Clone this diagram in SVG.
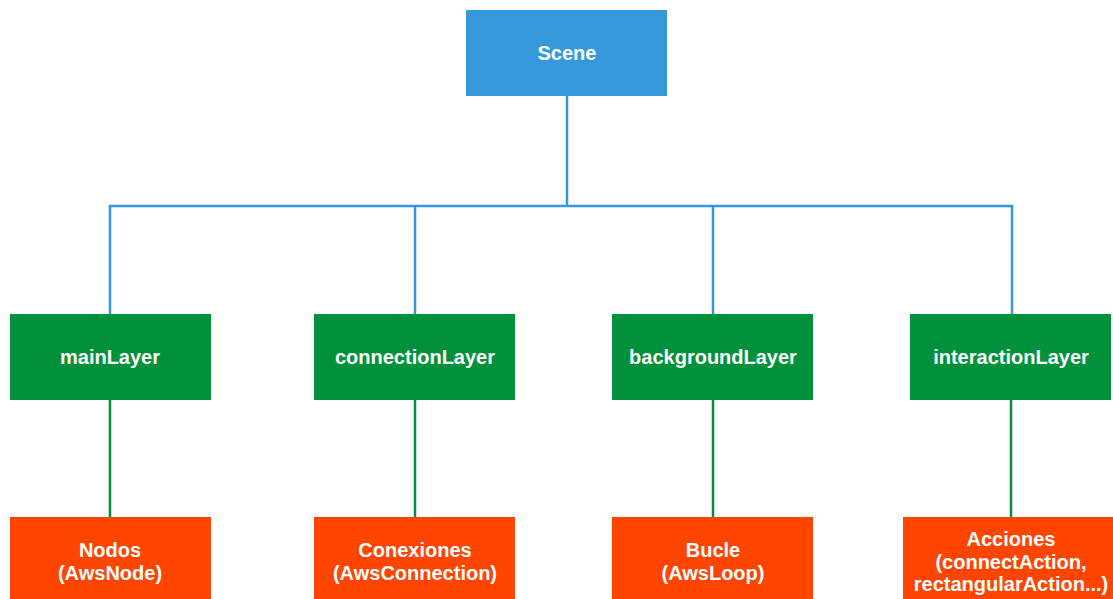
<svg xmlns="http://www.w3.org/2000/svg" width="1113" height="599" viewBox="0 0 1113 599">
  <style>
    .root { fill: #3598db; }
    .layer { fill: #00913a; }
    .item { fill: #ff4500; }
    .lbl { font-family: "Liberation Sans", Arial, sans-serif; font-weight: bold; font-size: 20px; fill: #ffffff; text-anchor: middle; }
    .bl { stroke: #3598db; stroke-width: 2.5; fill: none; }
    .gl { stroke: #00913a; stroke-width: 2.5; fill: none; }
  </style>
  <rect width="1113" height="599" fill="#ffffff"/>

  <!-- connectors -->
  <g id="connectors">
    <path class="bl" d="M567 96 V206 M110 314 V206 H1012 V314 M415 206 V314 M713 206 V314"/>
    <path class="gl" d="M110 400 V517 M415 400 V517 M713 400 V517 M1011 400 V517"/>
  </g>

  <g id="scene">
    <rect class="root" x="466" y="10" width="201" height="86"/>
    <text class="lbl" x="567" y="60">Scene</text>
  </g>

  <g id="mainLayer">
    <rect class="layer" x="10" y="314" width="201" height="86"/>
    <text class="lbl" x="110" y="364">mainLayer</text>
  </g>
  <g id="connectionLayer">
    <rect class="layer" x="314" y="314" width="201" height="86"/>
    <text class="lbl" x="415" y="364">connectionLayer</text>
  </g>
  <g id="backgroundLayer">
    <rect class="layer" x="612" y="314" width="201" height="86"/>
    <text class="lbl" x="713" y="364">backgroundLayer</text>
  </g>
  <g id="interactionLayer">
    <rect class="layer" x="910" y="314" width="201" height="86"/>
    <text class="lbl" x="1011" y="364">interactionLayer</text>
  </g>

  <g id="nodos">
    <rect class="item" x="10" y="517" width="201" height="86"/>
    <text class="lbl" x="110" y="557">Nodos</text>
    <text class="lbl" x="110" y="580">(AwsNode)</text>
  </g>
  <g id="conexiones">
    <rect class="item" x="314" y="517" width="201" height="86"/>
    <text class="lbl" x="415" y="557">Conexiones</text>
    <text class="lbl" x="415" y="580">(AwsConnection)</text>
  </g>
  <g id="bucle">
    <rect class="item" x="612" y="517" width="201" height="86"/>
    <text class="lbl" x="713" y="557">Bucle</text>
    <text class="lbl" x="713" y="580">(AwsLoop)</text>
  </g>
  <g id="acciones">
    <rect class="item" x="903" y="517" width="215" height="86"/>
    <text class="lbl" x="1011" y="546">Acciones</text>
    <text class="lbl" x="1011" y="569">(connectAction,</text>
    <text class="lbl" x="1011" y="591">rectangularAction...)</text>
  </g>
</svg>
